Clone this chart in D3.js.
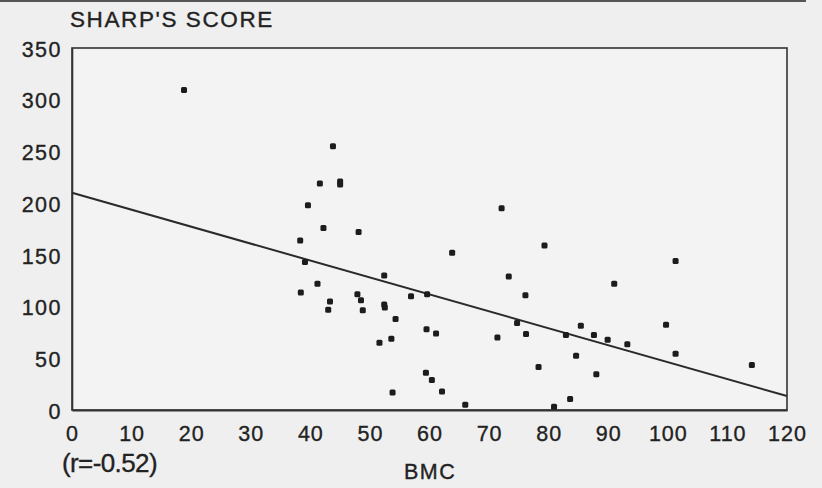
<!DOCTYPE html>
<html>
<head>
<meta charset="utf-8">
<script src="https://cdn.jsdelivr.net/npm/d3@7"></script>
<style>
  html, body { margin: 0; padding: 0; background: #efefef; }
  svg { display: block; }
  text { font-family: "Liberation Sans", Arial, Helvetica, sans-serif; fill: #222; stroke: #222; stroke-width: 0.35px; }
</style>
</head>
<body>
<svg id="chart" width="822" height="488"></svg>
<script>
// ---- data ----
const bmc = [18.8, 43.8, 41.6, 45.0, 45.0, 39.6, 42.2, 48.1, 38.3, 39.1,
             52.4, 41.2, 38.4, 47.9, 48.5, 43.3, 43.0, 48.8, 52.4, 52.5,
             54.3, 51.6, 53.6, 53.8, 63.8, 73.3, 56.9, 59.6, 59.5, 61.1,
             71.4, 59.4, 60.4, 62.1, 66.0, 72.1, 79.3, 76.1, 91.0, 74.7,
             76.2, 82.9, 85.4, 87.6, 89.9, 84.6, 78.3, 88.0, 83.6, 80.9,
             101.3, 99.7, 93.2, 101.3, 114.1];
const sharpScore = [309.5, 255, 219, 221, 218, 198, 176, 172, 164, 143,
                    130, 122, 113.5, 112, 106, 105, 97, 96.5, 102, 99,
                    88, 65, 69, 17, 152, 129, 110, 112, 78, 74,
                    70, 36, 29, 18, 5, 195, 159, 111, 122, 84,
                    73.5, 72.5, 81.5, 72.5, 68, 52.5, 41.6, 34.5, 10.6, 3.2,
                    144, 82.5, 63.5, 54.5, 43.5];
const xTicks = [0, 10, 20, 30, 40, 50, 60, 70, 80, 90, 100, 110, 120];
const yTicks = [0, 50, 100, 150, 200, 250, 300, 350];
const fitLine = [[0, 210], [120, 13.5]];   // regression line end points
const yTitle = "SHARP'S SCORE";
const xTitle = "BMC";
const rNote = "(r=-0.52)";

// ---- layout ----
const svg = d3.select("#chart");
const pLeft = 72, pRight = 787, pTop = 48, pBottom = 410;

const x = d3.scaleLinear().domain([0, 120]).range([pLeft, pRight]);
const y = d3.scaleLinear().domain([0, 350]).range([pBottom, pTop]);

// scan edge bar at top
svg.append("rect").attr("x", 0).attr("y", 0).attr("width", 806).attr("height", 2).attr("fill", "#555");

// frame
svg.append("rect")
  .attr("x", pLeft).attr("y", pTop)
  .attr("width", pRight - pLeft).attr("height", pBottom - pTop)
  .attr("fill", "#f3f3f3")
  .attr("stroke", "#333").attr("stroke-width", 1.6);

// axes
const xAxis = d3.axisBottom(x).tickValues(xTicks).tickSize(0).tickPadding(16).tickFormat(d3.format("d"));
const gx = svg.append("g").attr("transform", `translate(0,${pBottom})`).call(xAxis);
gx.select(".domain").attr("stroke", "#333").attr("stroke-width", 2);
gx.selectAll("text").style("font-size", "21.5px").style("letter-spacing", "1px").attr("fill", "#222");

const yAxis = d3.axisLeft(y).tickValues(yTicks).tickSize(0).tickPadding(10).tickFormat(d3.format("d"));
const gy = svg.append("g").attr("transform", `translate(${pLeft},0)`).call(yAxis);
gy.select(".domain").attr("stroke", "#333").attr("stroke-width", 1.6);
gy.selectAll("text").style("font-size", "21.5px").style("letter-spacing", "1.5px").attr("fill", "#222").attr("dy", "0.38em");

// regression line
svg.append("line")
  .attr("x1", x(fitLine[0][0])).attr("y1", y(fitLine[0][1]))
  .attr("x2", x(fitLine[1][0])).attr("y2", y(fitLine[1][1]))
  .attr("stroke", "#2a2a2a").attr("stroke-width", 2);

// points
const pts = bmc.map((v, i) => ({ x: v, y: sharpScore[i] }));
svg.append("g").selectAll("rect").data(pts).join("rect")
  .attr("x", d => x(d.x) - 3).attr("y", d => y(d.y) - 3)
  .attr("width", 6).attr("height", 6).attr("rx", 1.5)
  .attr("fill", "#1c1c1c");

// titles
svg.append("text").attr("x", 70).attr("y", 27)
  .style("font-size", "22.5px").style("letter-spacing", "1.6px").text(yTitle);
svg.append("text").attr("x", 404).attr("y", 479)
  .style("font-size", "21.5px").style("letter-spacing", "1.5px").text(xTitle);
svg.append("text").attr("x", 62).attr("y", 472)
  .style("font-size", "26px").style("letter-spacing", "-0.6px").text(rNote);
</script>
</body>
</html>
